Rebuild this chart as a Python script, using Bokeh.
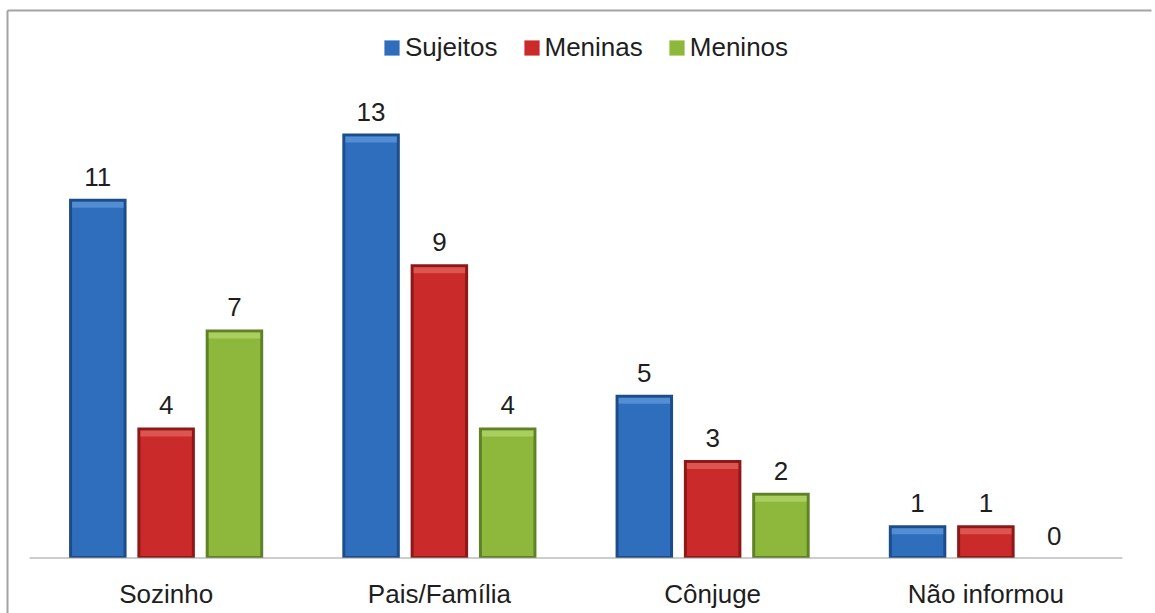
from bokeh.plotting import figure
from bokeh.models import FactorRange, Range1d, Legend, LegendItem, ColumnDataSource
from bokeh.transform import dodge
from bokeh.core.properties import value
from bokeh.embed import file_html
from bokeh.resources import INLINE

# ---- data ----
categories = ["Sozinho", "Pais/Família", "Cônjuge", "Não informou"]
series_names = ["Sujeitos", "Meninas", "Meninos"]
sujeitos = [11, 13, 5, 1]
meninas = [4, 9, 3, 1]
meninos = [7, 4, 2, 0]

# ---- styles ----
main_colors = ["#2f6ebd", "#cb2a2a", "#8db83c"]
edge_colors = ["#1d4c8a", "#8c1818", "#5f8226"]
light_colors = ["#5d95d8", "#e0605a", "#b2d468"]
FONT = "Liberation Sans"
TXT = "#1e1e1e"

W, H = 1155, 613
RIGHT_GAP = 4
FRAME_W = W - RIGHT_GAP
PX_PER_UNIT = 32.65
BASE = 557.5
y_end = BASE / PX_PER_UNIT
y_start = -(H - BASE) / PX_PER_UNIT
LEFT_PAD_PX = 29
CAT_PX = (FRAME_W - 2 * LEFT_PAD_PX) / 4
pad = LEFT_PAD_PX / CAT_PX


def px_x(n):
    return n / CAT_PX


def px_y(n):
    return n / PX_PER_UNIT


p = figure(width=W, height=H,
           x_range=FactorRange(*categories, range_padding=pad, range_padding_units="absolute"),
           y_range=Range1d(y_start, y_end),
           output_backend="svg", toolbar_location=None,
           x_axis_location=None, y_axis_location=None, min_border=0,
           min_border_right=RIGHT_GAP)
p.grid.visible = False
p.outline_line_color = None
p.background_fill_color = "white"
p.border_fill_color = "white"

# outer border (top and left edges)
x_left = -pad + px_x(7)
y_top = y_end - px_y(10)
border = ColumnDataSource(dict(x0=[x_left, x_left], y0=[y_top, y_top],
                               x1=[len(categories) + pad + 1, x_left], y1=[y_top, y_start - 1]))
p.segment(x0="x0", y0="y0", x1="x1", y1="y1", source=border, line_color="#a3a3a3", line_width=2)

offsets = [-0.25, 0.0, 0.25]
bar_w = px_x(57.5)
inner_w = bar_w - px_x(6)
series_vals = [sujeitos, meninas, meninos]
legend_items = []

for name, vals, off, mc, ec, lc in zip(series_names, series_vals, offsets, main_colors, edge_colors, light_colors):
    inner_bottom = px_y(2)
    inner_top = [max(v - px_y(3), inner_bottom) for v in vals]
    hl_bottom = [max(v - px_y(9), inner_bottom) for v in vals]
    src = ColumnDataSource(dict(cat=categories, val=vals, itop=inner_top, hlb=hl_bottom,
                                lbl=[str(v) for v in vals]))
    xs = dodge("cat", off, range=p.x_range)
    p.vbar(x=xs, top="val", bottom=0, width=bar_w, source=src, fill_color=ec, line_color=None)
    r_in = p.vbar(x=xs, top="itop", bottom=inner_bottom, width=inner_w, source=src,
                  fill_color=mc, line_color=None)
    p.vbar(x=xs, top="itop", bottom="hlb", width=inner_w, source=src, fill_color=lc,
           line_color=None, fill_alpha=0.8)
    p.text(x=xs, y="val", text="lbl", source=src, y_offset=-22, text_align="center",
           text_baseline="alphabetic", text_font=value(FONT), text_font_size="26px",
           text_color=TXT)
    legend_items.append(LegendItem(label=name, renderers=[r_in]))

# baseline
bsrc = ColumnDataSource(dict(x0=[categories[0]], x1=[categories[-1]], y=[0]))
p.segment(x0=dodge("x0", -0.5, range=p.x_range), x1=dodge("x1", 0.5, range=p.x_range),
          y0="y", y1="y", source=bsrc, line_color="#9a9a9a", line_width=1)

# category labels
csrc = ColumnDataSource(dict(cat=categories, y=[0] * len(categories)))
p.text(x="cat", y="y", text="cat", source=csrc, y_offset=36, text_align="center",
       text_baseline="alphabetic", text_font=value(FONT), text_font_size="26px", text_color=TXT)

legend = Legend(items=legend_items, orientation="horizontal", location=(382, 550),
                glyph_width=19, glyph_height=19, label_standoff=4, spacing=24,
                padding=0, margin=0, border_line_color=None, background_fill_alpha=0,
                label_text_font=FONT, label_text_font_size="26px", label_text_color=TXT,
                label_height=30)
p.add_layout(legend)

open("out.html", "w").write(file_html(p, INLINE))
